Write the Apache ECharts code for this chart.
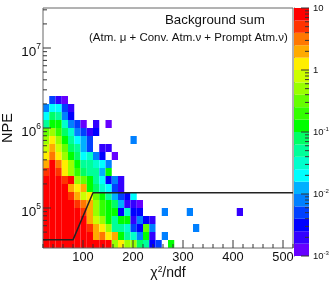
<!DOCTYPE html>
<html><head><meta charset="utf-8">
<style>html,body{margin:0;padding:0;background:#fff}#c{width:332px;height:283px}</style>
<script src="https://cdn.jsdelivr.net/npm/echarts@6/dist/echarts.min.js"></script>
</head><body><div id="c"></div>
<script>
const FONT = '"Liberation Sans", Arial, sans-serif';
// z values per chi2 bin (12.5 wide, from 20), one list per NPE bin (0.1 decade, from 10^4.5)
const z00=[9,9,9,9,9,9,9,9,9,9,9,.5,1.26,.5,.5,.08,.05,.0032,.005,0,.126];
const z01=[9,9,9,9,9,9,9,9,2,3.2,1.26,2,.126,.05,.032,.008,.126,.002,0,.008];
const z02=[9,9,9,9,9,9,9,5,2,1.26,.5,.05,.05,.032,.005,.0032,.32,.008,0,0,0,0,0,0,.008];
const z03=[9,9,9,9,9,9,9,2,.8,.5,.126,.05,.126,.126,.002,.008,.0032,.002];
const z04=[9,9,9,9,9,9,5,2,.5,.2,.126,.126,.0032,.032,.0032,.0032,0,0,0,.008,0,0,0,.008,0,0,0,0,0,0,0,.002];
const z05=[9,9,9,9,9,5,3.2,2,.5,.2,.126,.08,.0126,.002,.002,.0013];
const z06=[9,9,9,9,5,2,.8,1.26,.32,.126,.05,.0126,.005,.0032,.02];
const z07=[9,9,9,9,2,1.26,2,.126,.08,.032,.02,.005,.002];
const z08=[9,9,9,5,9,.5,.32,.126,.05,.02,.0032,.008,.002];
const z09=[5,9,5,1.26,.5,.2,.08,.05,.05,.0126,.126];
const z10=[2,9,3.2,1.26,.5,.126,.05,.05,.032,.02,.008];
const z11=[1.26,3.2,1.26,.5,.126,.08,.02,.032,.008,.0032,0,.0013];
const z12=[.8,2,.8,.32,.08,.05,.0126,.005,0,.002,.002];
const z13=[.5,1.26,.5,.126,.05,.02,.0126,.005,0,0,0,0,0,0,.008];
const z14=[.32,.5,.2,.08,.032,.008,.005,.002,.0032];
const z15=[.05,.126,.126,.032,.008,.005,.0013,0,.002,0,.0013];
const z16=[.02,.08,.05,.008,.0032];
const z17=[.008,.02,.02,.005,.002];
const z18=[0,.005,.002,.0013];
const zRows=[z00,z01,z02,z03,z04,z05,z06,z07,z08,z09,z10,z11,z12,z13,z14,z15,z16,z17,z18];
const npeEdges=[31623,39811,50119,63096,79433,100000,125893,158489,199526,251189,316228,398107,501187,630957,794328,1000000,1258925,1584893,1995262,2511886];
const chi2Start=20, chi2Width=12.5;

// palette bands
const zEdges=[.001,.00158,.00251,.00398,.00631,.01,.0158,.0251,.0398,.0631,.1,.158,.251,.398,.631,1,1.58,2.51,3.98,6.31,10];
const palette=['#6600ff','#3300ff','#0000ff','#0040ff','#0080ff','#00b0ff','#00ffff','#00ffcc','#00ff99','#00ff66','#00ff00','#33ff00','#66ff00','#99ff00','#ccff00','#ffee00','#ffaa00','#ff7700','#ff3300','#ff0000'];

// selection curve
const cutChi2=[20,80,120,520];
const cutNpe=[40000,40000,155000,155000];

// ticks
const chi2Major=[100,200,300,400,500];
const chi2Minor=[20,40,60,80,120,140,160,180,220,240,260,280,320,340,360,380,420,440,460,480,520];
const npeMajor=[1e5,1e6,1e7];
const npeMinor=[4e4,5e4,6e4,7e4,8e4,9e4,2e5,3e5,4e5,5e5,6e5,7e5,8e5,9e5,2e6,3e6,4e6,5e6,6e6,7e6,8e6,9e6,2e7,3e7];
const zMajor=[.001,.01,.1,1,10];
const zMinor=[.002,.003,.004,.005,.006,.007,.008,.009,.02,.03,.04,.05,.06,.07,.08,.09,.2,.3,.4,.5,.6,.7,.8,.9,2,3,4,5,6,7,8,9];

const colorOf=z=>{for(let k=0;k<palette.length;k++) if(z<zEdges[k+1]) return palette[k];return palette[palette.length-1];};

const cells=[];
zRows.forEach((row,j)=>row.forEach((z,i)=>{ if(z>0) cells.push([chi2Start+i*chi2Width,npeEdges[j],chi2Start+(i+1)*chi2Width,npeEdges[j+1],z]); }));
const bands=palette.map((c,k)=>[0,zEdges[k],1,zEdges[k+1],k]);

const rectItem=(params,api,fill)=>{
  const a=api.coord([api.value(0),api.value(1)]), b=api.coord([api.value(2),api.value(3)]);
  return {type:'rect',shape:{x:a[0],y:b[1],width:b[0]-a[0],height:a[1]-b[1]},style:{fill:fill}};
};
const tickLine='#333';
const xTicks=(vals,len)=>({type:'custom',xAxisIndex:0,yAxisIndex:0,silent:true,z:5,clip:false,data:vals.map(v=>[v]),
  renderItem:(p,api)=>{const c=api.coord([api.value(0),31623]);return {type:'line',shape:{x1:c[0],y1:c[1],x2:c[0],y2:c[1]-len},style:{stroke:tickLine,lineWidth:1}};}});
const yTicks=(vals,len)=>({type:'custom',xAxisIndex:0,yAxisIndex:0,silent:true,z:5,clip:false,data:vals.map(v=>[v]),
  renderItem:(p,api)=>{const c=api.coord([20,api.value(0)]);return {type:'line',shape:{x1:c[0],y1:c[1],x2:c[0]+len,y2:c[1]},style:{stroke:tickLine,lineWidth:1}};}});
const zTicks=(vals,len)=>({type:'custom',xAxisIndex:1,yAxisIndex:1,silent:true,z:5,clip:false,data:vals.map(v=>[v]),
  renderItem:(p,api)=>{const c=api.coord([1,api.value(0)]);return {type:'line',shape:{x1:c[0],y1:c[1],x2:c[0]-len,y2:c[1]},style:{stroke:tickLine,lineWidth:1}};}});

const powLabel=(v)=>{const e=Math.log10(v);if(Math.abs(e-Math.round(e))>1e-6)return '';return '{b|10}{s|'+Math.round(e)+'}';};
const zLabel=(v)=>{if(v>=9.99)return '{b|10}';if(Math.abs(v-1)<1e-6)return '{b|1}';const e=Math.log10(v);if(Math.abs(e-Math.round(e))>1e-6)return '';return '{b|10}{s|'+Math.round(e)+'}';};

const chart=echarts.init(document.getElementById('c'),null,{renderer:'canvas'});
chart.setOption({
  animation:false,
  backgroundColor:'#fff',
  textStyle:{fontFamily:FONT},
  title:[
    {text:'Background sum',left:165,top:14,padding:0,textStyle:{fontFamily:FONT,fontSize:13.3,fontWeight:'normal',color:'#111'}},
    {text:'(Atm. μ + Conv. Atm.ν + Prompt Atm.ν)',left:89,top:32,padding:0,textStyle:{fontFamily:FONT,fontSize:11.5,fontWeight:'normal',color:'#111'}}
  ],
  grid:[
    {left:43,top:8,width:250,height:240,show:true,borderColor:'#666',borderWidth:1,backgroundColor:'transparent',z:4,outerBoundsMode:'none'},
    {left:294,top:8,width:15,height:248,show:false,outerBoundsMode:'none'}
  ],
  xAxis:[
    {type:'value',gridIndex:0,min:20,max:520,interval:20,splitLine:{show:false},axisTick:{show:false},axisLine:{show:false},
     axisLabel:{margin:3,color:'#111',fontFamily:FONT,fontSize:12.8,showMinLabel:false,showMaxLabel:false,hideOverlap:false,
       formatter:v=>chi2Major.includes(v)?String(v):''},
     name:'{b|χ}{s|2}{b|/ndf}',nameLocation:'middle',nameGap:17,nameMoveOverlap:false,
     nameTextStyle:{rich:{b:{fontFamily:FONT,fontSize:14,color:'#111'},s:{fontFamily:FONT,fontSize:8.5,color:'#111',padding:[0,0,7,0]}}}},
    {type:'value',gridIndex:1,min:0,max:1,show:false}
  ],
  yAxis:[
    {type:'log',logBase:10,gridIndex:0,min:31623,max:31623000,splitLine:{show:false},axisTick:{show:false},axisLine:{show:false},minorTick:{show:false},
     axisLabel:{margin:2,showMinLabel:false,showMaxLabel:false,formatter:powLabel,
       rich:{b:{fontFamily:FONT,fontSize:13.5,color:'#111',padding:[8,0,0,0]},s:{fontFamily:FONT,fontSize:8.5,color:'#111',padding:[0,0,3,0]}}},
     name:'NPE',nameLocation:'middle',nameGap:28,nameMoveOverlap:false,nameTextStyle:{fontFamily:FONT,fontSize:14.5,color:'#111'}},
    {type:'log',logBase:10,gridIndex:1,min:.001,max:10,position:'right',splitLine:{show:false},axisTick:{show:false},minorTick:{show:false},
     axisLine:{show:true,lineStyle:{color:'#666',width:1}},
     axisLabel:{margin:4,formatter:zLabel,
       rich:{b:{fontFamily:FONT,fontSize:9.5,color:'#111'},s:{fontFamily:FONT,fontSize:6,color:'#111',padding:[0,0,5,0]}}}}
  ],
  series:[
    {type:'custom',xAxisIndex:0,yAxisIndex:0,silent:true,z:2,data:cells,encode:{x:[0,2],y:[1,3]},
     renderItem:(p,api)=>rectItem(p,api,colorOf(api.value(4)))},
    {type:'custom',xAxisIndex:1,yAxisIndex:1,silent:true,z:2,data:bands,encode:{x:[0,2],y:[1,3]},
     renderItem:(p,api)=>rectItem(p,api,palette[api.value(4)])},
    {type:'line',xAxisIndex:0,yAxisIndex:0,silent:true,z:6,data:cutChi2.map((x,i)=>[x,cutNpe[i]]),showSymbol:false,lineStyle:{color:'#222',width:1.5}},
    xTicks(chi2Major,8),xTicks(chi2Minor,4),yTicks(npeMajor,8),yTicks(npeMinor,4),zTicks(zMajor,8),zTicks(zMinor,4)
  ]
});
</script></body></html>
